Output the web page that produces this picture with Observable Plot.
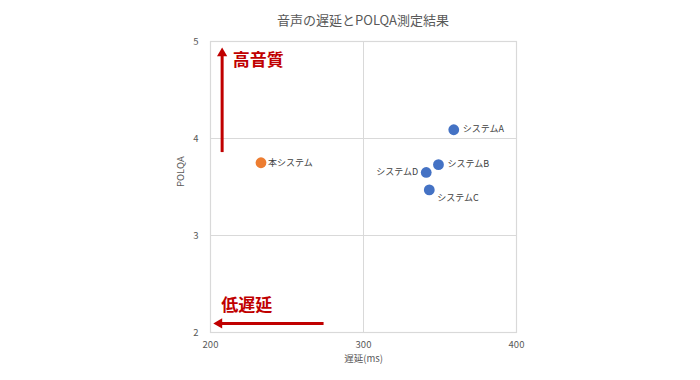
<!DOCTYPE html>
<html><head><meta charset="utf-8">
<script src="https://cdn.jsdelivr.net/npm/d3@7"></script>
<script src="https://cdn.jsdelivr.net/npm/@observablehq/plot@0.6"></script>
<style>
body{margin:0;background:#fff;font-family:"Noto Sans CJK JP","Noto Sans",sans-serif;}
#wrap{position:relative;width:700px;height:380px;}
#title{position:absolute;top:10px;left:213px;width:300px;text-align:center;font-size:13px;color:#595959;}
#chart{position:absolute;top:0;left:0;}
</style></head>
<body>
<div id="wrap"><div id="title">音声の遅延とPOLQA測定結果</div><div id="chart"></div></div>
<script>
// data
const systems = ["本システム", "システムA", "システムB", "システムC", "システムD"];
const delayMs = [233, 359, 349, 343, 341];
const polqaScore = [3.75, 4.09, 3.73, 3.47, 3.65];
const groups = ["own", "other", "other", "other", "other"];
const xTicks = [200, 300, 400];
const yTicks = [2, 3, 4, 5];
const xTitle = "遅延(ms)";
const yTitle = "POLQA";
// annotations (data coordinates)
const annoLabels = ["高音質", "低遅延"];
const annoX = [214.5, 207];
const annoY = [4.80, 2.28];
const shaftX1 = [207.6, 273.9];
const shaftY1 = [3.86, 2.093];
const shaftX2 = [207.6, 205.5];
const shaftY2 = [4.86, 2.093];
const headX = [207.6, 205.7];
const headY = [4.878, 2.093];
const headDir = [0, -90];

const pts = systems.map((s, i) => ({name: s, x: delayMs[i], y: polqaScore[i], g: groups[i]}));
const annos = annoLabels.map((t, i) => ({t, x: annoX[i], y: annoY[i]}));
const shafts = shaftX1.map((_, i) => ({x1: shaftX1[i], y1: shaftY1[i], x2: shaftX2[i], y2: shaftY2[i]}));
const heads = headX.map((_, i) => ({x: headX[i], y: headY[i], a: headDir[i]}));

const font = '"Noto Sans CJK JP","Noto Sans",sans-serif';
const red = "#c00000";
const lab = {fontSize: 9, fill: "#404040"};
const pick = names => d => names.includes(d.name);

const chart = Plot.plot({
  width: 700, height: 380,
  marginLeft: 210, marginRight: 184, marginTop: 41, marginBottom: 48,
  style: {fontFamily: font, background: "transparent"},
  x: {domain: [200, 400], ticks: xTicks, label: null},
  y: {domain: [2, 5], ticks: yTicks, label: null},
  color: {domain: ["own", "other"], range: ["#ed7d31", "#4472c4"]},
  marks: [
    Plot.gridX(xTicks, {stroke: "#d9d9d9", strokeOpacity: 1}),
    Plot.gridY(yTicks, {stroke: "#d9d9d9", strokeOpacity: 1}),
    Plot.frame({stroke: "#d9d9d9", strokeWidth: 1.2}),
    Plot.axisX(xTicks, {tickSize: 0, tickPadding: 9, fontSize: 9.5, fill: "#595959", tickFormat: d3.format("d")}),
    Plot.axisY(yTicks, {tickSize: 0, tickPadding: 12, fontSize: 9.5, fill: "#595959", tickFormat: d3.format("d")}),
    Plot.text([xTitle], {frameAnchor: "bottom", dy: 29, fontSize: 9.5, fill: "#595959"}),
    Plot.text([yTitle], {frameAnchor: "left", dx: -30, rotate: -90, fontSize: 9.5, fill: "#595959"}),
    Plot.link(shafts, {x1: "x1", y1: "y1", x2: "x2", y2: "y2", stroke: red, strokeWidth: 3}),
    Plot.dot(heads, {x: "x", y: "y", symbol: "triangle", r: 3.8, fill: red, rotate: "a"}),
    Plot.text(annos, {x: "x", y: "y", text: "t", textAnchor: "start", fontSize: 17, fontWeight: "bold", fill: red}),
    Plot.dot(pts, {x: "x", y: "y", r: 5.4, fill: "g"}),
    Plot.text(pts, {x: "x", y: "y", text: "name", textAnchor: "start", dx: 7, filter: pick(["本システム"]), ...lab}),
    Plot.text(pts, {x: "x", y: "y", text: "name", textAnchor: "start", dx: 9, dy: -1, filter: pick(["システムA", "システムB"]), ...lab}),
    Plot.text(pts, {x: "x", y: "y", text: "name", textAnchor: "start", dx: 8, dy: 8, filter: pick(["システムC"]), ...lab}),
    Plot.text(pts, {x: "x", y: "y", text: "name", textAnchor: "end", dx: -8, filter: pick(["システムD"]), ...lab})
  ]
});
document.getElementById("chart").appendChild(chart);
</script>
</body></html>
